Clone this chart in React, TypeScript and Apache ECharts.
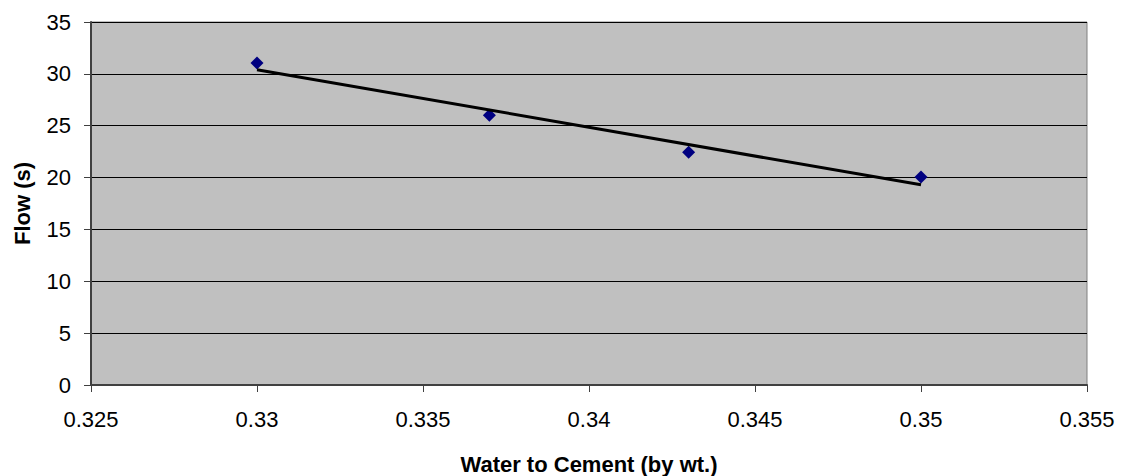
import React, { useEffect, useRef } from "react";
import * as echarts from "echarts";

const waterCement = [0.33, 0.337, 0.343, 0.35];
const flowSeconds = [31.05, 26.0, 22.45, 20.05];
const trendX = [0.33, 0.35];
const trendY = [30.4, 19.3];
const xTicks = { min: 0.325, max: 0.355, interval: 0.005 };
const yTicks = { min: 0, max: 35, interval: 5 };

export default function App() {
  const ref = useRef<HTMLDivElement>(null);
  useEffect(() => {
    if (!ref.current) return;
    const chart = echarts.init(ref.current, null, { renderer: "svg" });
    const font = "Liberation Sans, Arial, sans-serif";
    chart.setOption({
      animation: false,
      backgroundColor: "#ffffff",
      grid: {
        left: 91,
        top: 22,
        right: 35,
        bottom: 91,
        containLabel: false,
        outerBoundsMode: "none",
        show: true,
        backgroundColor: "#c0c0c0",
        borderColor: "#808080",
        borderWidth: 1,
      },
      xAxis: {
        type: "value",
        min: xTicks.min,
        max: xTicks.max,
        interval: xTicks.interval,
        name: "Water to Cement (by wt.)",
        nameLocation: "middle",
        nameGap: 68,
        nameTextStyle: { fontFamily: font, fontSize: 22, fontWeight: "bold", color: "#000" },
        axisLine: { show: true, onZero: false, lineStyle: { color: "#404040", width: 2 } },
        axisTick: { show: true, inside: false, length: 7, lineStyle: { color: "#404040", width: 1 } },
        axisLabel: {
          margin: 23,
          fontFamily: font,
          fontSize: 22,
          color: "#000",
          formatter: (v: number) => String(+v.toFixed(3)),
        },
        splitLine: { show: false },
      },
      yAxis: {
        type: "value",
        min: yTicks.min,
        max: yTicks.max,
        interval: yTicks.interval,
        name: "Flow (s)",
        nameLocation: "middle",
        nameGap: 58,
        nameTextStyle: { fontFamily: font, fontSize: 22, fontWeight: "bold", color: "#000" },
        axisLine: { show: true, lineStyle: { color: "#404040", width: 2 } },
        axisTick: { show: true, inside: false, length: 7, lineStyle: { color: "#404040", width: 1 } },
        axisLabel: { margin: 20, fontFamily: font, fontSize: 22, color: "#000" },
        splitLine: { show: true, lineStyle: { color: "#000", width: 1 } },
      },
      series: [
        {
          type: "scatter",
          data: waterCement.map((x, i) => [x, flowSeconds[i]]),
          symbol: "diamond",
          symbolSize: 13,
          itemStyle: { color: "#000080", opacity: 1 },
          z: 2,
        },
        {
          type: "line",
          data: trendX.map((x, i) => [x, trendY[i]]),
          symbol: "none",
          lineStyle: { color: "#000", width: 3 },
          z: 3,
        },
      ],
    });
    return () => chart.dispose();
  }, []);
  return (
    <div
      ref={ref}
      style={{ position: "fixed", left: 0, top: 0, width: 1122, height: 476 }}
    />
  );
}
